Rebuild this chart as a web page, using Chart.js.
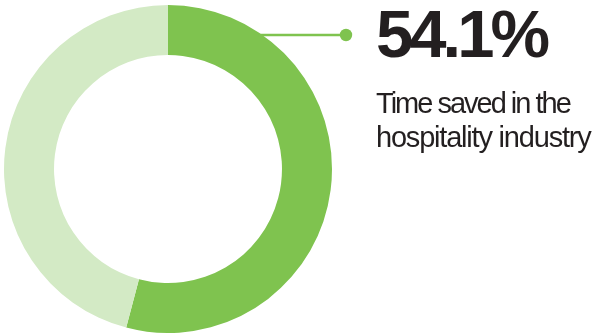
<!DOCTYPE html>
<html>
<head>
<meta charset="utf-8">
<script src="https://cdn.jsdelivr.net/npm/chart.js@4/dist/chart.umd.min.js"></script>
<style>
  html, body { margin: 0; padding: 0; background: #ffffff; }
  #wrap { position: relative; width: 595px; height: 333px; overflow: hidden; }
  #chart { position: absolute; left: 0; top: 0; }
  .headline {
    position: absolute; left: 376px; top: 0px;
    font-family: "Liberation Sans", Arial, sans-serif; font-weight: 700;
    font-size: 67px; line-height: 67px; letter-spacing: -4px;
    color: #231f20; white-space: nowrap;
  }
  .caption {
    position: absolute; left: 376px;
    font-family: "Liberation Sans", Arial, sans-serif; font-weight: 400;
    font-size: 29px; line-height: 29px;
    color: #231f20; white-space: nowrap;
  }
  #caption1 { top: 89px; letter-spacing: -2px; }
  #caption2 { top: 123px; letter-spacing: -1.2px; }
</style>
</head>
<body>
<div id="wrap">
  <canvas id="chart" width="595" height="333"></canvas>
  <div class="headline" id="headline"></div>
  <div class="caption" id="caption1"></div>
  <div class="caption" id="caption2"></div>
</div>
<script>
// Share of time saved vs. the remainder
const categories = ['Time saved', 'Remaining'];
const values = [54.1, 45.9];
const captionLines = ['Time saved in the', 'hospitality industry'];

const ringColors = ['#7fc34f', '#d3eac5'];
const leaderY = 35;
const leaderDotX = 346;

document.getElementById('headline').textContent = values[0].toFixed(1) + '%';
document.getElementById('caption1').textContent = captionLines[0];
document.getElementById('caption2').textContent = captionLines[1];

// Leader line from the outer edge of the ring to a dot next to the headline
const leaderPlugin = {
  id: 'leader',
  afterDatasetsDraw(chart) {
    const arc = chart.getDatasetMeta(0).data[0];
    const { x, y, outerRadius } = arc.getProps(['x', 'y', 'outerRadius'], true);
    const dy = y - leaderY;
    const startX = x + Math.sqrt(Math.max(0, outerRadius * outerRadius - dy * dy)) - 4;
    const ctx = chart.ctx;
    ctx.save();
    ctx.strokeStyle = ringColors[0];
    ctx.fillStyle = ringColors[0];
    ctx.lineWidth = 2.5;
    ctx.beginPath();
    ctx.moveTo(startX, leaderY);
    ctx.lineTo(leaderDotX, leaderY);
    ctx.stroke();
    ctx.beginPath();
    ctx.arc(leaderDotX, leaderY, 6.2, 0, Math.PI * 2);
    ctx.fill();
    ctx.restore();
  }
};

new Chart(document.getElementById('chart'), {
  type: 'doughnut',
  data: {
    labels: categories,
    datasets: [{
      data: values,
      backgroundColor: ringColors,
      borderWidth: 0,
      hoverOffset: 0
    }]
  },
  options: {
    responsive: false,
    animation: false,
    cutout: '69.5%',
    layout: { padding: { left: 4, top: 5, right: 263, bottom: 0 } },
    plugins: {
      legend: { display: false },
      tooltip: { enabled: false }
    },
    events: []
  },
  plugins: [leaderPlugin]
});
</script>
</body>
</html>
